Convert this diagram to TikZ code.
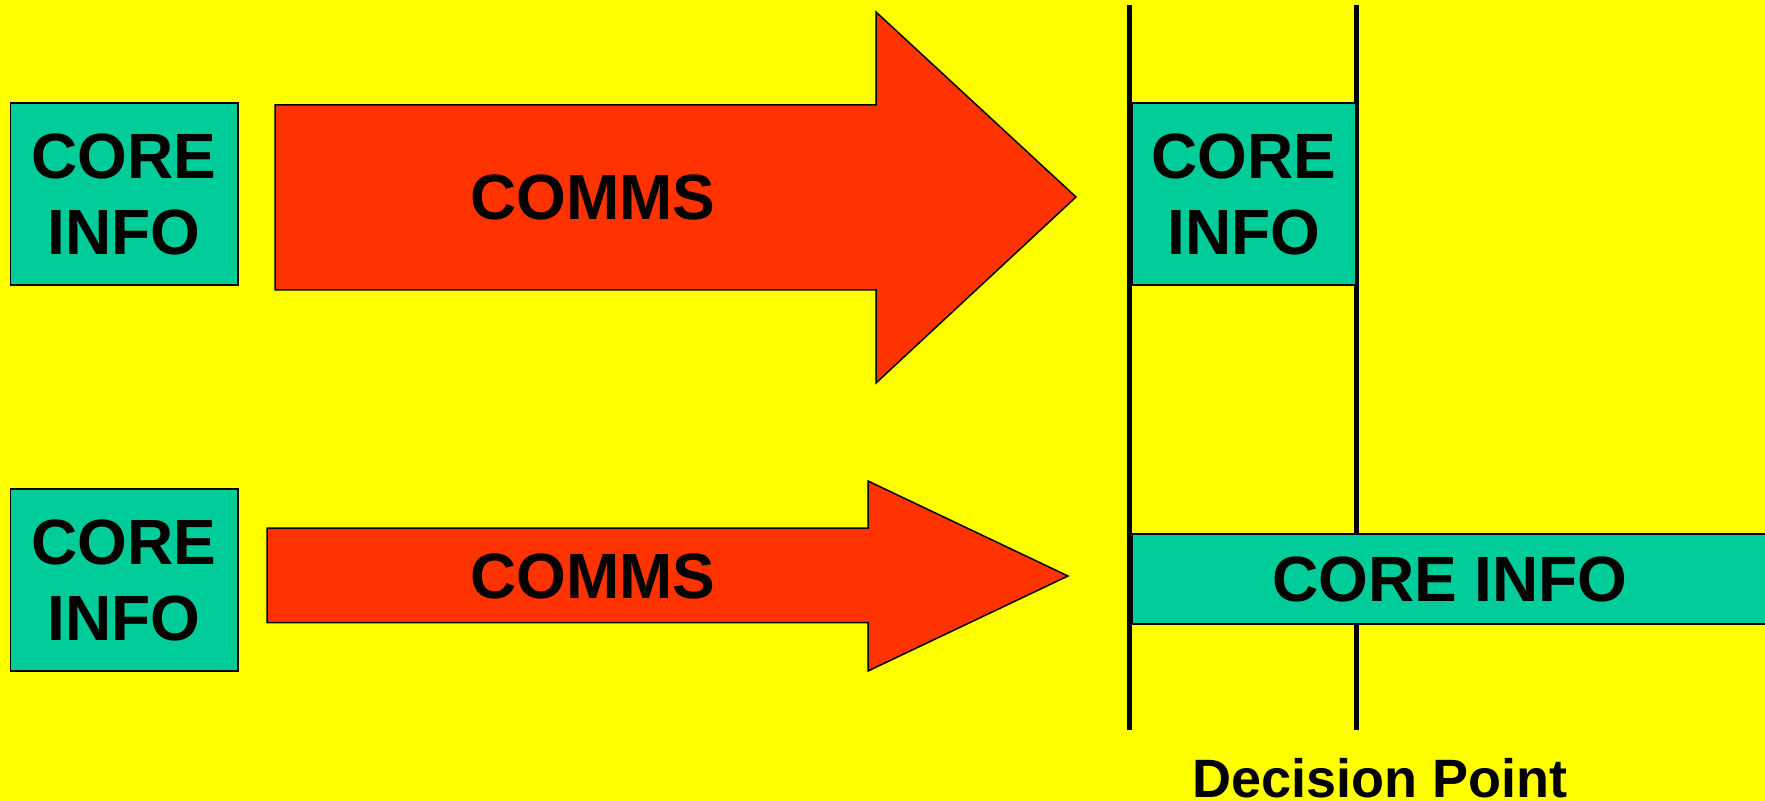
\documentclass[tikz,border=0pt]{standalone}
\usepackage{fontspec}
\setmainfont{Liberation Sans}
\definecolor{bgyellow}{HTML}{FFFF00}
\definecolor{infogreen}{HTML}{00CC99}
\definecolor{commsred}{HTML}{FF3300}
\begin{document}
\begin{tikzpicture}[x=0.5pt,y=-0.5pt,
  infobox/.style={draw=black, line width=0.75pt, fill=infogreen, align=center,
    font=\fontsize{32}{38}\selectfont\bfseries, inner sep=0pt},
  commsarrow/.style={draw=black, line width=0.75pt, fill=commsred, line join=miter},
  commslabel/.style={font=\fontsize{32}{38}\selectfont\bfseries, inner sep=0pt},
  decline/.style={line width=2.6pt, black}]
\fill[bgyellow] (0,0) rectangle (1765,801);
\useasboundingbox (0,0) rectangle (1765,801);
% decision lines
\coordinate (l1t) at (1129.5,5);
\coordinate (l1b) at (1129.5,730);
\coordinate (l2t) at (1356.5,5);
\coordinate (l2b) at (1356.5,730);
\draw[decline] (l1t) -- (l1b);
\draw[decline] (l2t) -- (l2b);
% left boxes
\node[infobox, minimum width=113.75pt, minimum height=91pt] (core1) at (124,194) {CORE\\INFO};
\node[infobox, minimum width=113.75pt, minimum height=91pt] (core2) at (124,580) {CORE\\INFO};
% arrows
\draw[commsarrow] (275,105) -- (876,105) -- (876,12) -- (1076,197) -- (876,383) -- (876,290) -- (275,290) -- cycle;
\node[commslabel] (comms1) at (593,197) {COMMS};
\draw[commsarrow] (267,528) -- (868,528) -- (868,481) -- (1068,576) -- (868,671) -- (868,622.5) -- (267,622.5) -- cycle;
\node[commslabel] (comms2) at (593,576) {COMMS};
% right boxes
\node[infobox, minimum width=111.75pt, minimum height=91pt] (core3) at (1244,194) {CORE\\INFO};
\node[infobox, minimum width=318pt, minimum height=45pt] (core4) at (1450,579) {CORE INFO};
% label
\node[anchor=base, inner sep=0pt, font=\fontsize{27}{32}\selectfont\bfseries] (dp) at (1380,797) {Decision Point};
\end{tikzpicture}
\end{document}
